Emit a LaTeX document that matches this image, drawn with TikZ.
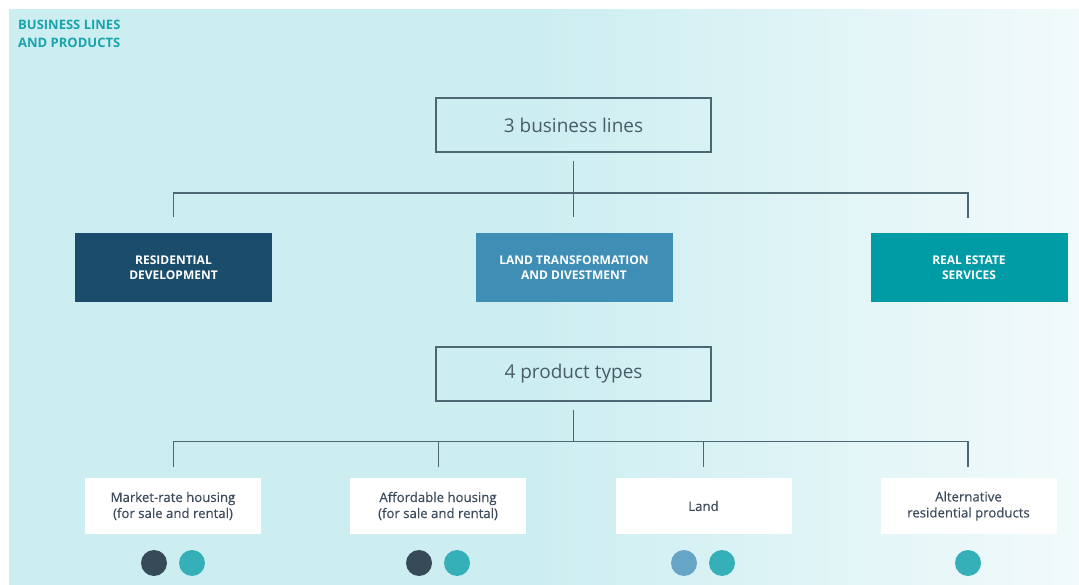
\documentclass[tikz,border=0pt]{standalone}
\usepackage{fontspec}
\setmainfont{Open Sans}
\definecolor{bgl}{HTML}{CDEEF1}
\definecolor{bgr}{HTML}{F2FAFB}
\definecolor{ttl}{HTML}{1AA3AD}
\definecolor{linec}{HTML}{4C6772}
\definecolor{boxtxt}{HTML}{4A5C68}
\definecolor{cA}{HTML}{1A4D6B}
\definecolor{cB}{HTML}{3E8EB6}
\definecolor{cC}{HTML}{009CA6}
\definecolor{dkc}{HTML}{364A57}
\definecolor{tlc}{HTML}{35B0B8}
\definecolor{lbc}{HTML}{67A5C6}
\definecolor{prodtxt}{HTML}{3D4B5C}
\tikzset{
  headbox/.style={draw=linec, line width=1.5pt, minimum width=275pt, minimum height=54pt, inner sep=0pt, font=\fontsize{19}{22}\selectfont, text=boxtxt},
  linebox/.style={minimum width=197pt, minimum height=69pt, inner sep=0pt, text=white, align=center, font=\fontsize{12}{15}\selectfont\bfseries},
  prodbox/.style={fill=white, minimum width=176pt, minimum height=56pt, inner sep=0pt, text=prodtxt, align=center, font=\fontsize{13.2}{16}\selectfont\addfontfeature{FakeBold=0.3}},
  conn/.style={draw=linec, line width=1.8pt},
  dot/.style={circle, minimum size=26pt, inner sep=0pt}
}
\begin{document}
\begin{tikzpicture}[x=1pt,y=-1pt]
\useasboundingbox (0,0) rectangle (1079,585);
\fill[white] (0,0) rectangle (1079,585);
\shade[left color=bgl, right color=bgr, middle color=bgl] (9,10) rectangle (1079,585);
\node[anchor=base west, text=ttl, font=\fontsize{13}{18}\selectfont\bfseries, inner sep=0pt] (title1) at (18,29.5) {BUSINESS LINES};
\node[anchor=base west, text=ttl, font=\fontsize{13}{18}\selectfont\bfseries, inner sep=0pt] (title2) at (18,47.5) {AND PRODUCTS};
% top level
\node[headbox] (lines) at (573.5,125) {3 business lines};
\node[linebox, fill=cA] (rd) at (173.5,267.5) {RESIDENTIAL\\DEVELOPMENT};
\node[linebox, fill=cB] (ltd) at (574,267.5) {LAND TRANSFORMATION\\AND DIVESTMENT};
\node[linebox, fill=cC] (res) at (969,267.5) {REAL ESTATE\\SERVICES};
\coordinate (jt) at (573.5,193);
\coordinate (ja) at (173.5,193);
\coordinate (jc) at (968,193);
\draw[conn] ([yshift=-8pt]lines.south) -- (jt);
\draw[conn] (ja |- rd.north) ++(0,-16) -- (ja) -- (jc) -- ++(0,25);
\draw[conn] (jt) -- ++(0,24);
% product level
\node[headbox] (types) at (573.5,374) {4 product types};
\node[prodbox] (p1) at (173,506) {Market-rate housing\\(for sale and rental)};
\node[prodbox] (p2) at (438,506) {Affordable housing\\(for sale and rental)};
\node[prodbox] (p3) at (703.5,506) {Land};
\node[prodbox] (p4) at (968.5,506) {Alternative\\residential products};
\coordinate (kt) at (573.5,441.5);
\coordinate (k1) at (173.5,441.5);
\coordinate (k2) at (438.5,441.5);
\coordinate (k3) at (703.5,441.5);
\coordinate (k4) at (968,441.5);
\draw[conn] ([yshift=-8pt]types.south) -- (kt);
\draw[conn] (k1) ++(0,25) -- (k1) -- (k4) -- ++(0,25);
\draw[conn] (k2) -- ++(0,25);
\draw[conn] (k3) -- ++(0,25);
% dots
\node[dot, fill=dkc] (d1a) at (154,563) {};
\node[dot, fill=tlc] (d1b) at (192,563) {};
\node[dot, fill=dkc] (d2a) at (419,563) {};
\node[dot, fill=tlc] (d2b) at (457,563) {};
\node[dot, fill=lbc] (d3a) at (684,563) {};
\node[dot, fill=tlc] (d3b) at (722,563) {};
\node[dot, fill=tlc] (d4a) at (968,563) {};
\end{tikzpicture}
\end{document}
